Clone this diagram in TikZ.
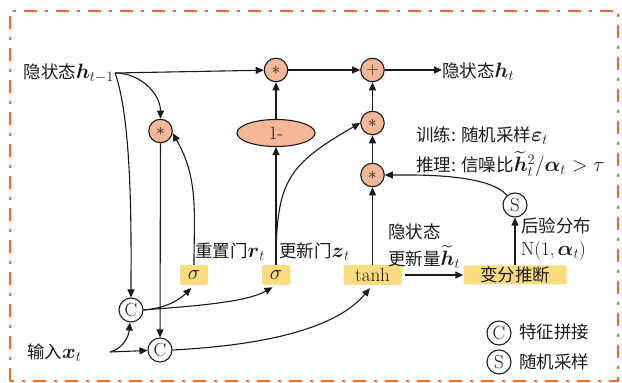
\documentclass[tikz,border=0pt]{standalone}
\usepackage{amsmath}
\usepackage{fontspec}
\newfontfamily\cjk{Noto Sans CJK SC}
\usetikzlibrary{arrows.meta,shapes.geometric}
\definecolor{peach}{HTML}{F5B796}
\definecolor{gold}{HTML}{FDDC80}
\definecolor{bord}{HTML}{F26B2A}
\definecolor{ink}{HTML}{1A1A1A}
\newcommand{\bv}[1]{\boldsymbol{#1}}
\newcommand{\mth}[1]{{\fontsize{20.74}{22}\selectfont$#1$}}
\newcommand{\lat}[1]{{\fontsize{19}{21}\selectfont #1}}
\begin{document}
\begin{tikzpicture}[x=1pt,y=1pt,
  every node/.style={font=\fontsize{17.5}{20}\selectfont, text=ink},
  arr/.style={draw=ink, line width=1.1pt, -{Triangle[length=8pt,width=7pt]}},
  opc/.style={circle, draw=ink, line width=1.1pt, fill=peach, minimum size=23.5pt, inner sep=0pt},
  catc/.style={circle, draw=ink, line width=1.1pt, fill=white, minimum size=24pt, inner sep=0pt, font=\fontsize{19}{20}\selectfont},
  gate/.style={fill=gold, rounded corners=1.5pt, minimum height=20pt, inner sep=0pt},
  lbl/.style={inner sep=0pt, anchor=west},
]
\useasboundingbox (0,0) rectangle (622,383);
\draw[bord, line width=2.2pt, dash pattern=on 13pt off 8pt on 3pt off 8pt] (10,2) rectangle (618,372);

% operation nodes
\node[opc] (m1) at (276,313) {$\ast$};
\node[opc] (plus) at (372.5,313) {$+$};
\node[opc] (m2) at (372.5,260) {$\ast$};
\node[opc] (m3) at (372.5,208) {$\ast$};
\node[opc] (mr) at (160.5,252) {$\ast$};
\node[ellipse, draw=ink, line width=1.1pt, fill=peach, minimum width=78pt, minimum height=27pt, inner sep=0pt] (om) at (276,250) {\lat{1-}};
\node[gate, minimum width=28pt] (rs) at (194,108) {\mth{\sigma}};
\node[gate, minimum width=28pt] (us) at (276,108) {\mth{\sigma}};
\node[gate, minimum width=58pt] (th) at (372.5,108) {\lat{tanh}};
\node[gate, minimum width=103pt, minimum height=19pt] (vi) at (515,108) {\cjk 变分推断};
\node[catc] (S) at (515,178) {S};
\node[catc] (c1) at (131,73) {C};
\node[catc] (c2) at (160,33) {C};
\node[catc] (lc) at (499,50) {C};
\node[catc] (ls) at (499,21) {S};

% labels
\node[lbl, anchor=east] (hp) at (114,310) {{\cjk 隐状态}\mth{\bv{h}_{t-1}}};
\node[lbl] (ho) at (442,311) {{\cjk 隐状态}\mth{\bv{h}_t}};
\node[lbl] (xi) at (27,30) {{\cjk 输入}\mth{\bv{x}_t}};
\node[lbl] (lr) at (195,131) {{\cjk 重置门}\mth{\bv{r}_t}};
\node[lbl] (lz) at (279,131) {{\cjk 更新门}\mth{\bv{z}_t}};
\node[lbl] (lh1) at (388,151) {\cjk 隐状态};
\node[lbl] (lh2) at (388,126) {{\cjk 更新量}\mth{\widetilde{\bv{h}}{}_t}};
\node[lbl] (lp1) at (521,157) {\cjk 后验分布};
\node[lbl] (lp2) at (521,132) {\lat{N(1,\,}\mth{\bv{\alpha}_t}\lat{)}};
\node[lbl] (lt1) at (416,247) {{\cjk 训练: 随机采样}\mth{\bv{\varepsilon}_t}};
\node[lbl] (lt2) at (416,219) {{\cjk 推理: 信噪比}\mth{\widetilde{\bv{h}}{}_t^2/\bv{\alpha}_t>\tau}};
\node[lbl] (l1) at (519,51) {\cjk 特征拼接};
\node[lbl] (l2) at (519,21) {\cjk 随机采样};

% connectors
\coordinate (hs) at (115,310);
\coordinate (xs) at (110,31);
\draw[arr] (hs) -- (m1);
\draw[arr] (hs) to[out=0,in=90] (mr);
\draw[arr] (hs) to[out=-70,in=90,looseness=0.6] (c1);
\draw[arr] (mr) -- (c2);
\draw[arr] (rs.north) to[out=90,in=-60] (mr.-10);
\draw[arr] (us) -- (om);
\draw[arr] (om) -- (m1);
\draw[arr] (us.north) to[out=90,in=210,looseness=1.3] (m2.west);
\draw[arr] (m1) -- (plus);
\draw[arr] (m2) -- (plus);
\draw[arr] (m3) -- (m2);
\draw[arr] (th) -- (m3);
\draw[arr] (plus) -- (plus -| ho.west);
\draw[arr, shorten <=3pt] (th) -- (vi);
\draw[arr] (vi) -- (S);
\draw[arr] (S.130) to[out=130,in=0,looseness=0.6] (m3.east);
\draw[arr, shorten >=4pt] (c1.east) to[out=5,in=-135] (rs.south);
\draw[arr, shorten >=4pt] (c1.east) to[out=5,in=-150,looseness=0.7] (us.south);
\draw[arr, shorten >=4pt] (c2.east) to[out=3,in=-130,looseness=0.8] (th.south);
\draw[arr] (xs) -- (c2);
\draw[arr] (xs) to[out=15,in=-95] (c1);
\end{tikzpicture}
\end{document}
